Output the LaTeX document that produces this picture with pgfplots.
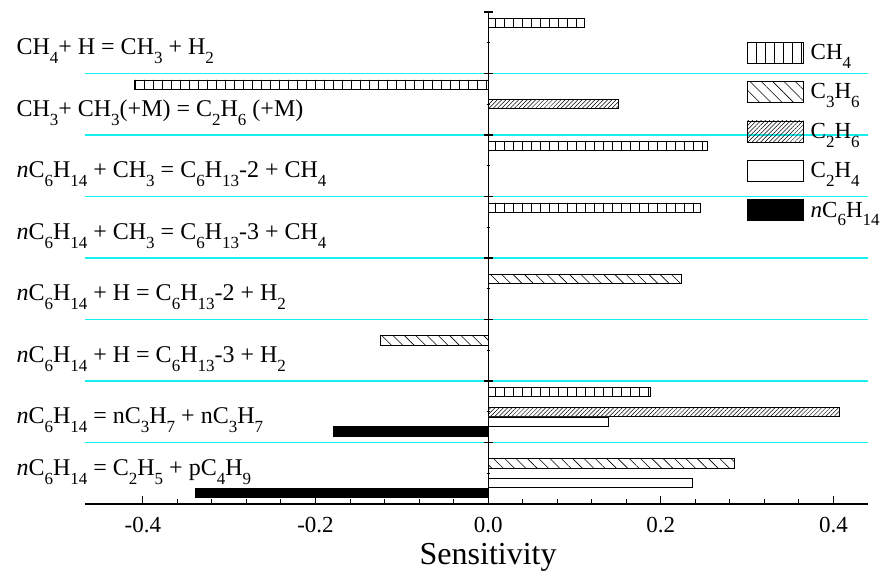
\documentclass[border=0pt]{standalone}
\usepackage{pgfplots}
\pgfplotsset{compat=1.18}
\usepackage{fontspec}
\setmainfont{Liberation Serif}
\usetikzlibrary{patterns.meta}
\definecolor{gridcyan}{RGB}{20,240,240}
\newcommand{\sub}[1]{\raisebox{-0.38em}{\fontsize{17}{17}\selectfont #1}}
\newcommand{\lab}{\fontsize{24}{27}\selectfont}
\begin{document}
\begin{tikzpicture}
\useasboundingbox (-85pt,-72pt) rectangle (796pt,504pt);
\begin{axis}[
  scale only axis, width=783pt, height=492pt,
  at={(0,0)}, anchor=south west,
  xmin=-0.467, xmax=0.44,
  ymin=0, ymax=8, y dir=reverse,
  axis x line*=bottom, axis y line*=center,
  xtick={-0.4,-0.2,0,0.2,0.4},
  minor x tick num=4,
  ytick=\empty,
  tick align=center,
  every major x tick/.append style={yshift=4pt},
  every minor x tick/.append style={yshift=2.5pt},
  major tick length=8pt, minor tick length=5pt,
  tick style={black, line width=1pt},
  axis line style={black, line width=1.2pt},
  /pgf/number format/assume math mode=true,
  xticklabel style={font=\fontsize{23}{26}\selectfont, yshift=-6pt, /pgf/number format/fixed, /pgf/number format/fixed zerofill, /pgf/number format/precision=1},
  xlabel={Sensitivity},
  xlabel style={font=\fontsize{32}{34}\selectfont, at={(axis cs:0,8)}, anchor=north, yshift=-36pt},
  clip=false,
  xbar, bar width=0.15,
  legend style={at={(axis description cs:0.845,0.94)}, anchor=north west, draw=none, fill=none, inner sep=0pt, row sep=17.5pt, font=\fontsize{23}{26}\selectfont, nodes={inner sep=1pt, anchor=west}},
  legend cell align=left,
  legend image code/.code={\draw[#1, line width=0.9pt] (0pt,-10.5pt) rectangle (56pt,10.5pt);},
]
\pgfplotsinvokeforeach{1,2,3,4,5,6,7}{
  \draw[gridcyan, line width=1.5pt] (axis cs:-0.467,#1) -- (axis cs:0.44,#1);
}
\addplot[bar shift=-0.32, draw=black, line width=0.8pt, pattern={Lines[angle=90,distance=9pt,line width=0.6pt]}] coordinates {(0.111,0.5) (-0.410,1.5) (0.2535,2.5) (0.2458,3.5) (0.188,6.5)};
\addplot[bar shift=-0.16, draw=black, line width=0.8pt, pattern={Lines[angle=-45,distance=8pt,line width=0.6pt]}] coordinates {(0.224,4.5) (-0.125,5.5) (0.2856,7.5)};
\addplot[bar shift=0, draw=black, line width=0.8pt, pattern={Lines[angle=45,distance=3pt,line width=0.5pt]}] coordinates {(0.151,1.5) (0.407,6.5)};
\addplot[bar shift=0.16, draw=black, line width=0.8pt, fill=white] coordinates {(0.1395,6.5) (0.237,7.5)};
\addplot[bar shift=0.32, draw=black, line width=0.8pt, fill=black] coordinates {(-0.179,6.5) (-0.339,7.5)};
\legend{\hspace{6pt}CH\sub{4}, \hspace{6pt}C\sub{3}H\sub{6}, \hspace{6pt}C\sub{2}H\sub{6}, \hspace{6pt}C\sub{2}H\sub{4}, \hspace{6pt}\textit{n}C\sub{6}H\sub{14}}
\pgfplotsinvokeforeach{0,1,2,3,4,5,6,7}{
  \draw[black, line width=1.1pt] ([xshift=-4.5pt]axis cs:0,#1) -- ([xshift=4.5pt]axis cs:0,#1);
  \draw[black, line width=0.8pt] ([xshift=-1.5pt]axis cs:0,#1+0.5) -- ([xshift=1.5pt]axis cs:0,#1+0.5);
}
\node[anchor=base west, font=\lab] at ([xshift=-72pt,yshift=-12pt]axis cs:-0.467,0.5) {CH\sub{4}+ H = CH\sub{3} + H\sub{2}};
\node[anchor=base west, font=\lab] at ([xshift=-72pt,yshift=-12pt]axis cs:-0.467,1.5) {CH\sub{3}+ CH\sub{3}(+M) = C\sub{2}H\sub{6} (+M)};
\node[anchor=base west, font=\lab] at ([xshift=-72pt,yshift=-12pt]axis cs:-0.467,2.5) {\textit{n}C\sub{6}H\sub{14} + CH\sub{3} = C\sub{6}H\sub{13}-2 + CH\sub{4}};
\node[anchor=base west, font=\lab] at ([xshift=-72pt,yshift=-12pt]axis cs:-0.467,3.5) {\textit{n}C\sub{6}H\sub{14} + CH\sub{3} = C\sub{6}H\sub{13}-3 + CH\sub{4}};
\node[anchor=base west, font=\lab] at ([xshift=-72pt,yshift=-12pt]axis cs:-0.467,4.5) {\textit{n}C\sub{6}H\sub{14} + H = C\sub{6}H\sub{13}-2 + H\sub{2}};
\node[anchor=base west, font=\lab] at ([xshift=-72pt,yshift=-12pt]axis cs:-0.467,5.5) {\textit{n}C\sub{6}H\sub{14} + H = C\sub{6}H\sub{13}-3 + H\sub{2}};
\node[anchor=base west, font=\lab] at ([xshift=-72pt,yshift=-12pt]axis cs:-0.467,6.5) {\textit{n}C\sub{6}H\sub{14} = nC\sub{3}H\sub{7} + nC\sub{3}H\sub{7}};
\node[anchor=base west, font=\lab] at ([xshift=-72pt,yshift=-2pt]axis cs:-0.467,7.5) {\textit{n}C\sub{6}H\sub{14} = C\sub{2}H\sub{5} + pC\sub{4}H\sub{9}};
\end{axis}
\end{tikzpicture}
\end{document}
